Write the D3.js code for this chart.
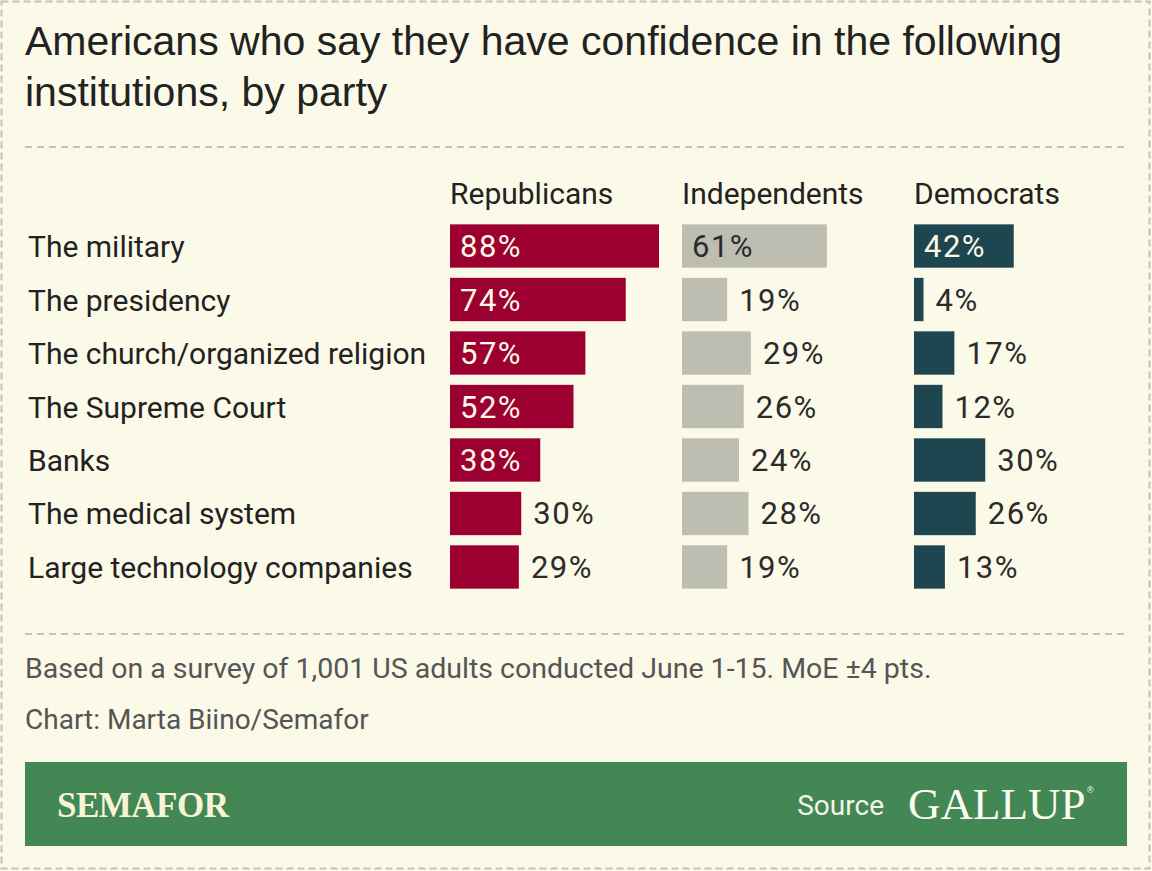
<!DOCTYPE html>
<html>
<head>
<meta charset="utf-8">
<script src="https://cdn.jsdelivr.net/npm/d3@7"></script>
<style>
  html, body { margin: 0; padding: 0; background: #fbf9e7; }
  svg { display: block; }
  .cat, .hdr, .val, .note { font-family: Roboto, "Noto Sans", sans-serif; }
</style>
</head>
<body>
<div id="chart"></div>
<script>
// Confidence in institutions, by party (Gallup, June 2023)
const CATEGORIES = [
  "The military",
  "The presidency",
  "The church/organized religion",
  "The Supreme Court",
  "Banks",
  "The medical system",
  "Large technology companies"
];
const PARTIES = ["Republicans", "Independents", "Democrats"];
const REPUBLICANS = [88, 74, 57, 52, 38, 30, 29];
const INDEPENDENTS = [61, 19, 29, 26, 24, 28, 19];
const DEMOCRATS = [42, 4, 17, 12, 30, 26, 13];

const W = 1152, H = 871;
const series = [REPUBLICANS, INDEPENDENTS, DEMOCRATS];
const fills = ["#9c0031", "#bdbeb1", "#1e4650"];
const insideText = ["#fbf9e7", "#2b2b2b", "#fbf9e7"];

const svg = d3.select("#chart").append("svg").attr("width", W).attr("height", H);

// outer dashed frame
svg.append("rect").attr("x", 1.5).attr("y", 1.5).attr("width", W - 4).attr("height", H - 4)
  .attr("fill", "#fbf9e7").attr("stroke", "#c4c3bb").attr("stroke-width", 2)
  .attr("stroke-dasharray", "7,4");

// title
const title = svg.append("text").attr("x", 25).attr("y", 55)
  .attr("font-family", "'Liberation Sans', Arial, sans-serif").attr("font-size", 41)
  .attr("fill", "#222");
title.append("tspan").attr("x", 25).text("Americans who say they have confidence in the following");
title.append("tspan").attr("x", 25).attr("dy", 51).text("institutions, by party");

function dashed(y) {
  svg.append("line").attr("x1", 25).attr("x2", 1127).attr("y1", y).attr("y2", y)
    .attr("stroke", "#c4c3bb").attr("stroke-width", 2).attr("stroke-dasharray", "7,5");
}
dashed(147);
dashed(634);

// scales
const col = d3.scaleBand().domain(PARTIES).range([450, 1146]).paddingInner(0);
const x = d3.scaleLinear().domain([0, 100]).range([0, 237.5]);
const y = d3.scaleBand().domain(CATEGORIES).range([219, 594]).paddingInner(0.19).paddingOuter(0.1);

// column headers
svg.selectAll("text.hdr").data(PARTIES).join("text")
  .attr("class", "hdr")
  .attr("x", d => col(d)).attr("y", 204)
  .attr("font-size", 30).attr("fill", "#222")
  .text(d => d);

// category labels
svg.selectAll("text.cat").data(CATEGORIES).join("text")
  .attr("class", "cat")
  .attr("x", 28).attr("y", d => y(d) + y.bandwidth() / 2 + 11)
  .attr("font-size", 30).attr("fill", "#222")
  .text(d => d);

PARTIES.forEach((p, pi) => {
  const g = svg.append("g").attr("transform", `translate(${col(p)},0)`);
  const data = CATEGORIES.map((c, i) => ({ c, v: series[pi][i] }));
  g.selectAll("rect").data(data).join("rect")
    .attr("x", 0).attr("y", d => y(d.c))
    .attr("width", d => x(d.v)).attr("height", y.bandwidth())
    .attr("fill", fills[pi]);
  g.selectAll("text").data(data).join("text")
    .attr("class", "val")
    .attr("x", d => d.v >= 35 ? 10 : x(d.v) + 12)
    .attr("y", d => y(d.c) + y.bandwidth() / 2 + 11)
    .attr("font-size", 31).attr("letter-spacing", 1.5)
    .attr("fill", d => d.v >= 35 ? insideText[pi] : "#2b2b2b")
    .text(d => d.v + "%");
});

// notes
svg.append("text").attr("class", "note").attr("x", 25).attr("y", 678)
  .attr("font-size", 28.5).attr("fill", "#555")
  .text("Based on a survey of 1,001 US adults conducted June 1-15. MoE \u00b14 pts.");
svg.append("text").attr("class", "note").attr("x", 25).attr("y", 729)
  .attr("font-size", 28).attr("fill", "#555")
  .text("Chart: Marta Biino/Semafor");

// footer band
svg.append("rect").attr("x", 25).attr("y", 762).attr("width", 1102).attr("height", 84)
  .attr("fill", "#428754");
svg.append("text").attr("x", 57).attr("y", 817)
  .attr("font-family", "'Liberation Serif', 'DejaVu Serif', serif").attr("font-weight", "bold")
  .attr("font-size", 35).attr("fill", "#f8f3d4").attr("letter-spacing", -0.5)
  .text("SEMAFOR");
svg.append("text").attr("class", "note").attr("x", 884).attr("y", 815)
  .attr("text-anchor", "end").attr("font-size", 28).attr("fill", "#f4f4ea")
  .text("Source");
svg.append("text").attr("x", 908).attr("y", 819)
  .attr("font-family", "'Liberation Serif', 'DejaVu Serif', serif")
  .attr("font-size", 45).attr("fill", "#fbfbf2")
  .text("GALLUP");
svg.append("text").attr("x", 1087).attr("y", 793)
  .attr("font-family", "'Liberation Sans', sans-serif")
  .attr("font-size", 9).attr("fill", "#fbfbf2")
  .text("\u00ae");
</script>
</body>
</html>
